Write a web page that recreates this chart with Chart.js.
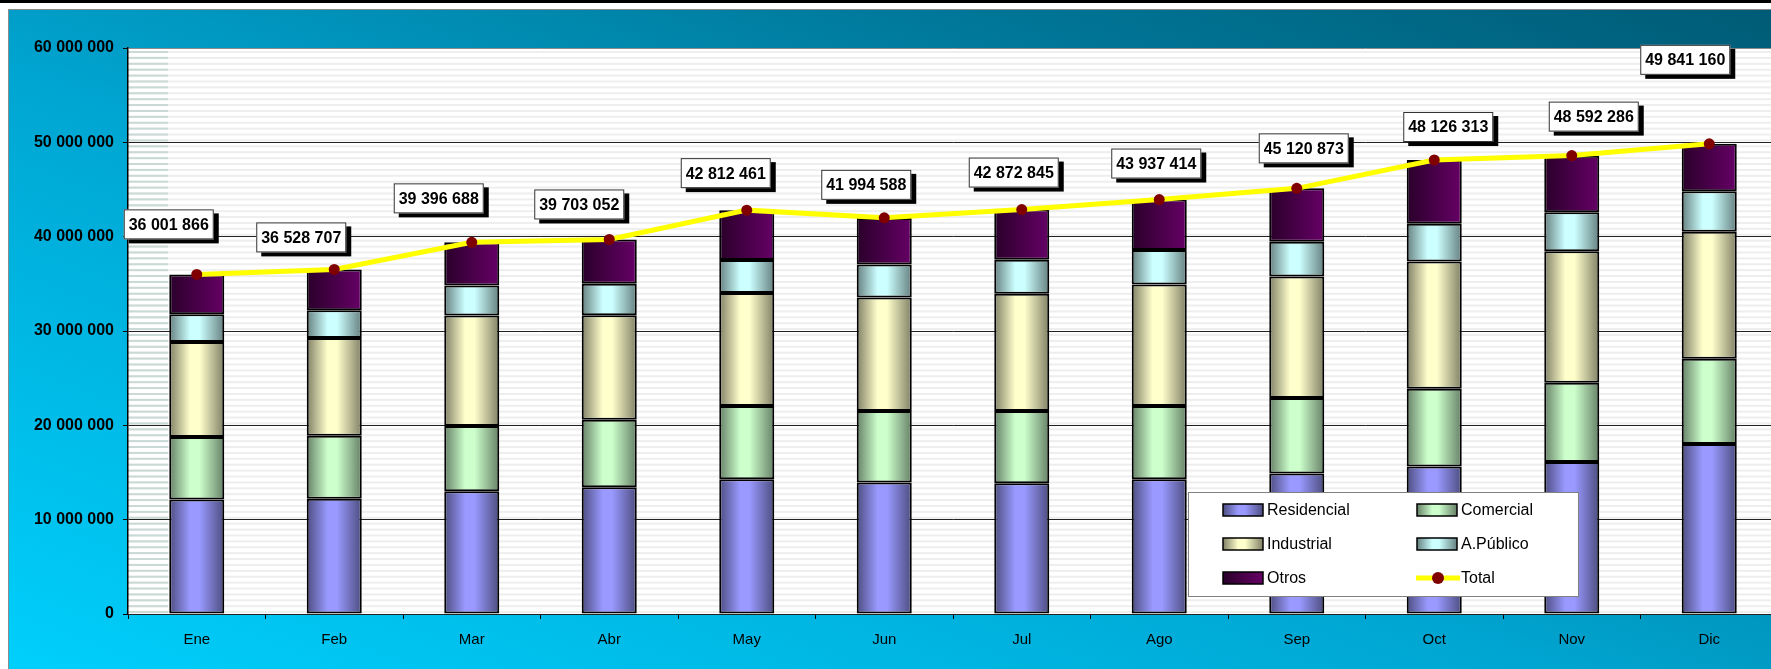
<!DOCTYPE html>
<html>
<head>
<meta charset="utf-8">
<script src="https://cdn.jsdelivr.net/npm/chart.js@4/dist/chart.umd.min.js"></script>
<style>
  html, body { margin: 0; padding: 0; overflow: hidden; background: #fff; width: 1771px; height: 669px; }
  #topbar { position: absolute; left: 0; top: 0; width: 1800px; height: 3px; background: #000; }
  #panel {
    position: absolute; left: 8px; top: 9px; width: 1800px; height: 700px;
    border: 1px solid #8c8c8c;
    background: linear-gradient(to top right, #00d2ff 0%, #00a6d2 45%, #00789a 75%, #005a74 100%);
  }
  #wrap { position: absolute; left: 0; top: 0; }
</style>
</head>
<body>
<div id="topbar"></div>
<div id="panel"></div>
<div id="wrap"><canvas id="consumo" width="1790" height="669"></canvas></div>
<script>
// datos (kWh por mes)
const meses = ['Ene', 'Feb', 'Mar', 'Abr', 'May', 'Jun', 'Jul', 'Ago', 'Sep', 'Oct', 'Nov', 'Dic'];
const residencial = [12.13e6, 12.23e6, 13.01e6, 13.44e6, 14.29e6, 13.94e6, 13.87e6, 14.29e6, 14.90e6, 15.63e6, 16.11e6, 18.02e6];
const comercial   = [6.63e6, 6.67e6, 6.92e6, 7.16e6, 7.77e6, 7.58e6, 7.65e6, 7.77e6, 7.99e6, 8.24e6, 8.41e6, 9.05e6];
const industrial  = [10.07e6, 10.36e6, 11.70e6, 11.07e6, 11.98e6, 12.03e6, 12.42e6, 12.87e6, 12.88e6, 13.49e6, 13.93e6, 13.46e6];
const aPublico    = [2.94e6, 2.94e6, 3.19e6, 3.33e6, 3.48e6, 3.51e6, 3.61e6, 3.65e6, 3.70e6, 4.01e6, 4.13e6, 4.28e6];
const otros       = [4.23e6, 4.33e6, 4.58e6, 4.70e6, 5.29e6, 4.93e6, 5.32e6, 5.36e6, 5.65e6, 6.76e6, 6.01e6, 5.03e6];
const total       = [36001866, 36528707, 39396688, 39703052, 42812461, 41994588, 42872845, 43937414, 45120873, 48126313, 48592286, 49841160];

// desplazamiento de las etiquetas respecto al punto (px)
const etiquetaDx = [-28, -33, -33, -30, -21, -18, -8, -3, 7, 14, 22, -24];
const etiquetaDy = [-50, -32, -44, -35, -37, -33, -37, -36, -40, -33, -39, -84];

const FONT = 'Arial, "Liberation Sans", sans-serif';
const BAR_PCT = 0.4;

function miles(v) {
  return String(Math.round(v)).replace(/\B(?=(\d{3})+(?!\d))/g, ' ');
}

// colores: [oscuro, claro]
const tonos = {
  res: ['#4d4d80', '#9999ff'],
  com: ['#668066', '#ccffcc'],
  ind: ['#808066', '#ffffcc'],
  pub: ['#668080', '#ccffff'],
  otr: ['#2a002a', '#660066']
};

function gradiente(ctx2d, x0, x1, tono, lineal) {
  const g = ctx2d.createLinearGradient(x0, 0, x1, 0);
  if (lineal) {
    g.addColorStop(0, tono[0]);
    g.addColorStop(1, tono[1]);
  } else {
    g.addColorStop(0, tono[0]);
    g.addColorStop(0.38, tono[1]);
    g.addColorStop(0.55, tono[1]);
    g.addColorStop(1, tono[0]);
  }
  return g;
}

function relleno(tono, lineal) {
  return function(ctx) {
    const chart = ctx.chart;
    const xs = chart.scales.x;
    if (!xs || ctx.dataIndex === undefined) return tono[1];
    const cx = xs.getPixelForValue(ctx.dataIndex);
    const w = xs.width / meses.length * BAR_PCT;
    if (!isFinite(cx) || !isFinite(w) || w <= 0) return tono[1];
    return gradiente(chart.ctx, cx - w / 2, cx + w / 2, tono, lineal);
  };
}

// fondo del area de trazado con rayas
const fondoPlugin = {
  id: 'fondo',
  beforeDraw(chart) {
    const { ctx, chartArea: a, scales } = chart;
    ctx.save();
    ctx.fillStyle = '#ffffff';
    ctx.fillRect(a.left, a.top, a.right - a.left, a.bottom - a.top);
    const paso = (scales.y.getPixelForValue(0) - scales.y.getPixelForValue(10e6)) / 16;
    for (let y = a.top + 3; y < a.bottom; y += paso) {
      ctx.fillStyle = '#eeeeee';
      ctx.fillRect(a.left, y, a.right - a.left, 2);
      ctx.fillStyle = '#c9d9d5';
      ctx.fillRect(a.left, y, 40, 2);
    }
    ctx.restore();
  }
};

// etiquetas del total y leyenda
const extrasPlugin = {
  id: 'extras',
  afterDraw(chart) {
    const ctx = chart.ctx;
    const meta = chart.getDatasetMeta(5);
    ctx.save();
    ctx.font = 'bold 16px ' + FONT;
    ctx.textAlign = 'center';
    ctx.textBaseline = 'middle';
    meta.data.forEach((p, i) => {
      const cx = p.x + etiquetaDx[i];
      const cy = p.y + etiquetaDy[i];
      const w = 90, h = 30;
      ctx.fillStyle = '#000';
      ctx.fillRect(cx - w / 2 + 5, cy - h / 2 + 4, w, h);
      ctx.fillStyle = '#fff';
      ctx.fillRect(cx - w / 2, cy - h / 2, w, h);
      ctx.strokeStyle = '#333';
      ctx.lineWidth = 1;
      ctx.strokeRect(cx - w / 2 + 0.5, cy - h / 2 + 0.5, w - 1, h - 1);
      ctx.fillStyle = '#000';
      ctx.fillText(miles(total[i]), cx, cy + 1);
    });

    // leyenda
    const lx = 1188, ly = 492, lw = 390, lh = 104;
    ctx.fillStyle = '#fff';
    ctx.fillRect(lx, ly, lw, lh);
    ctx.strokeStyle = '#808080';
    ctx.lineWidth = 1;
    ctx.strokeRect(lx + 0.5, ly + 0.5, lw, lh);
    ctx.font = '16px ' + FONT;
    ctx.textAlign = 'left';
    const ds = chart.data.datasets;
    ds.forEach((d, k) => {
      const col = k % 2, fila = Math.floor(k / 2);
      const sx = lx + 35 + col * 194;
      const sy = ly + 18 + fila * 34;
      if (d.type === 'line') {
        ctx.strokeStyle = '#ffff00';
        ctx.lineWidth = 5;
        ctx.beginPath();
        ctx.moveTo(sx - 1, sy);
        ctx.lineTo(sx + 43, sy);
        ctx.stroke();
        ctx.fillStyle = '#800000';
        ctx.beginPath();
        ctx.arc(sx + 21, sy, 6, 0, Math.PI * 2);
        ctx.fill();
      } else {
        ctx.fillStyle = gradiente(ctx, sx, sx + 40, d.tono, d.tono === tonos.otr);
        ctx.fillRect(sx, sy - 6, 40, 12);
        ctx.strokeStyle = '#000';
        ctx.lineWidth = 1.5;
        ctx.strokeRect(sx, sy - 6, 40, 12);
      }
      ctx.fillStyle = '#000';
      ctx.fillText(d.label, sx + 44, sy + 1);
    });
    ctx.restore();
  }
};

function barra(label, data, tono, lineal) {
  return {
    type: 'bar',
    label: label,
    data: data,
    tono: tono,
    backgroundColor: relleno(tono, lineal),
    borderColor: '#000',
    borderWidth: 2,
    borderSkipped: false,
    barPercentage: BAR_PCT,
    categoryPercentage: 1,
    stack: 'consumo',
    order: 1
  };
}

new Chart(document.getElementById('consumo'), {
  data: {
    labels: meses,
    datasets: [
      barra('Residencial', residencial, tonos.res),
      barra('Comercial', comercial, tonos.com),
      barra('Industrial', industrial, tonos.ind),
      barra('A.Público', aPublico, tonos.pub),
      barra('Otros', otros, tonos.otr, true),
      {
        type: 'line',
        label: 'Total',
        data: total,
        borderColor: '#ffff00',
        borderWidth: 5,
        tension: 0,
        pointRadius: 5.5,
        pointBackgroundColor: '#800000',
        pointBorderColor: '#800000',
        pointBorderWidth: 0,
        order: 0
      }
    ]
  },
  options: {
    responsive: false,
    animation: false,
    layout: { padding: { top: 48, right: 12, left: 0, bottom: 0 } },
    plugins: {
      legend: { display: false },
      tooltip: { enabled: false }
    },
    scales: {
      x: {
        stacked: true,
        grid: { offset: true, drawOnChartArea: false, drawTicks: true, tickLength: 5, color: '#000' },
        border: { color: '#222', width: 1 },
        ticks: { color: '#000', font: { family: FONT, size: 15 }, padding: 12, maxRotation: 0 },
        afterFit(s) { s.height = 55; }
      },
      y: {
        stacked: true,
        min: 0,
        max: 60000000,
        grid: {
          color: ctx => (ctx.tick && ctx.tick.value === 60000000 ? '#8c8c8c' : '#222'),
          tickColor: '#000',
          tickLength: 5,
          lineWidth: 1
        },
        border: { color: '#000', width: 1.5 },
        ticks: {
          stepSize: 10000000,
          color: '#000',
          padding: 9,
          font: { family: FONT, size: 16, weight: 'bold' },
          callback: v => miles(v)
        },
        afterFit(s) { s.width = 128; }
      }
    }
  },
  plugins: [fondoPlugin, extrasPlugin]
});
</script>
</body>
</html>
